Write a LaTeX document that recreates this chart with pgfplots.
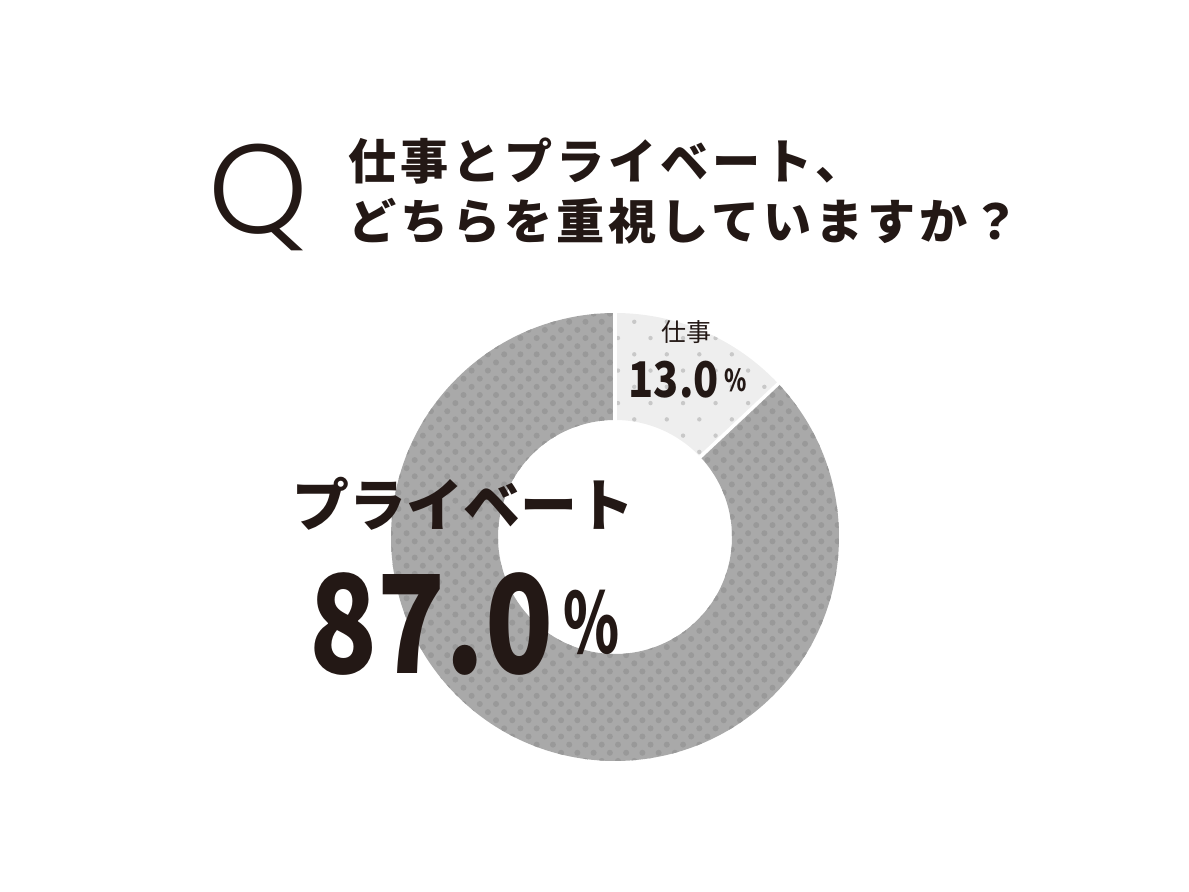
\documentclass[border=0pt]{standalone}
\usepackage{fontspec}
\usepackage{pgfplots}
\usepackage{pgfplotstable}
\pgfplotsset{compat=1.18}
\usetikzlibrary{patterns.meta}
\setmainfont{Noto Sans CJK JP}
\newfontfamily\jp{Noto Sans CJK JP}
\newfontfamily\qfont{Poppins Light}
\newfontfamily\jptitle[LetterSpace=8]{Noto Sans CJK JP}
\definecolor{ink}{HTML}{231815}
\definecolor{bigslice}{HTML}{A9A9A9}
\definecolor{bigdot}{HTML}{999999}
\definecolor{smallslice}{HTML}{EEEEEE}
\definecolor{smalldot}{HTML}{C8C8C8}

\pgfplotstableread{
share
13.0
87.0
}\shares
\pgfplotstablegetelem{0}{share}\of\shares
\let\shareWork\pgfplotsretval
\pgfplotstablegetelem{1}{share}\of\shares
\let\sharePriv\pgfplotsretval
\pgfmathsetmacro{\aStart}{90}
\pgfmathsetmacro{\aMid}{90-3.6*\shareWork}
\pgfmathsetmacro{\aEnd}{\aMid-3.6*\sharePriv}

\begin{document}
\begin{tikzpicture}
\begin{axis}[
  scale only axis, width=11.89cm, height=8.91cm,
  xmin=0, xmax=1189, ymin=0, ymax=891,
  hide axis, clip=false]
\path (axis cs:0,0) rectangle (axis cs:1189,891);
\coordinate (C) at (axis cs:615,354);
% work slice
\path[fill=smallslice, postaction={pattern={Dots[distance=2.3mm, radius=0.22mm, angle=45]}, pattern color=smalldot}]
  ([shift={(\aStart:22.4mm)}]C) arc[start angle=\aStart, end angle=\aMid, radius=22.4mm]
  -- ([shift={(\aMid:11.7mm)}]C) arc[start angle=\aMid, end angle=\aStart, radius=11.7mm] -- cycle;
% private slice
\path[fill=bigslice, postaction={pattern={Dots[distance=1.15mm, radius=0.3mm, angle=45]}, pattern color=bigdot}]
  ([shift={(\aMid:22.4mm)}]C) arc[start angle=\aMid, end angle=\aEnd, radius=22.4mm]
  -- ([shift={(\aEnd:11.7mm)}]C) arc[start angle=\aEnd, end angle=\aMid, radius=11.7mm] -- cycle;
% separators
\draw[white, line width=0.35mm] ([shift={(\aStart:11.0mm)}]C) -- ([shift={(\aStart:23mm)}]C);
\draw[white, line width=0.35mm] ([shift={(\aMid:11.0mm)}]C) -- ([shift={(\aMid:23mm)}]C);
% title
\node[anchor=base west, inner sep=0pt, text=ink] at (axis cs:208,657) {\qfont\fontsize{36pt}{40pt}\selectfont Q};
\node[anchor=base west, inner sep=0pt, text=ink] at (axis cs:348,711) {\jptitle\bfseries\fontsize{13.7pt}{17pt}\selectfont 仕事とプライベート、};
\node[anchor=base west, inner sep=0pt, text=ink] at (axis cs:348,651) {\jptitle\bfseries\fontsize{13.7pt}{17pt}\selectfont どちらを重視していますか？};
% labels
\node[anchor=base, inner sep=0pt, text=ink] at (axis cs:686,549) {\jp\fontsize{7.1pt}{9pt}\selectfont 仕事};
\node[anchor=base west, inner sep=0pt, text=ink] at (axis cs:628,493) {\scalebox{0.84}[1]{\jp\bfseries\fontsize{14pt}{16pt}\selectfont 13.0}};
\node[anchor=base west, inner sep=0pt, text=ink] at (axis cs:724,499) {\scalebox{0.75}[1]{\jp\bfseries\fontsize{8.6pt}{10pt}\selectfont \%}};
\node[anchor=base west, inner sep=0pt, text=ink] at (axis cs:292,364) {\jp\bfseries\fontsize{16.2pt}{19pt}\selectfont プライベート};
\node[anchor=base west, inner sep=0pt, text=ink] at (axis cs:309,218) {\scalebox{0.82}[1]{\jp\bfseries\fontsize{38.8pt}{42pt}\selectfont 87.0}};
\node[anchor=base west, inner sep=0pt, text=ink] at (axis cs:563,238) {\scalebox{0.68}[1]{\jp\bfseries\fontsize{23.8pt}{26pt}\selectfont \%}};
\end{axis}
\end{tikzpicture}
\end{document}
